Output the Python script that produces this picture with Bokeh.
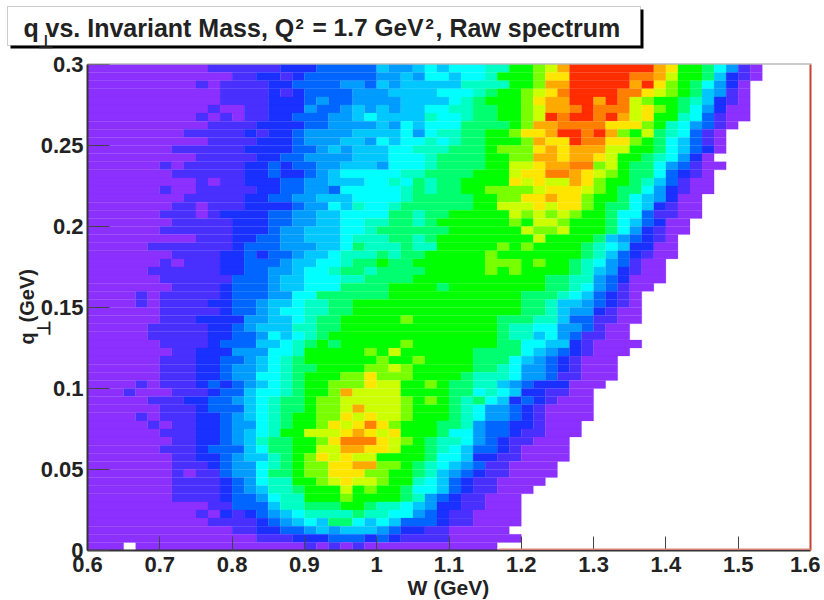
from bokeh.plotting import figure
from bokeh.embed import file_html
from bokeh.resources import INLINE
from bokeh.models import (ColumnDataSource, LinearColorMapper, FixedTicker, NumeralTickFormatter,
                          Label, BoxAnnotation)
import numpy as np

W_MIN, W_MAX, N_W = 0.6, 1.6, 60
Q_MIN, Q_MAX, N_Q = 0.0, 0.3, 60
PALETTE = ["#8B30FF","#4A30FF","#1A30FF","#0066FF","#009CFF","#00C8FF","#00FFFF","#00FFC4",
           "#00FF70","#00FF00","#78FF00","#CCFF00","#FFE600","#FFAA00","#FF8000","#FF2D00"]
LEVELS = "abcdefghijklmnop"
X_TICKS = [0.6,0.7,0.8,0.9,1.0,1.1,1.2,1.3,1.4,1.5,1.6]
Y_TICKS = [0,0.05,0.1,0.15,0.2,0.25,0.3]

# colour level per bin, top row (q=0.3) first; left part W bins 0-26
LEFT = [
"aaaaaaaaaa bbbbbb ccc ddddd f ee",
"aaaaaaaaaaaa bb cc b c dddddd ee f",
"aaaaaaaaa b a bbbb cc dddd ee d f e f",
"aaaaaaaaaaa bbbb c b c dddd eee ff",
"aaaaaaaaaaa bbbb ccc d e dd eeee f",
"aaaaaaaaaa b aa bb ccc e d d e f e f e f",
"aaaaaaaaa b a b a bb cc ddd ee f g fff",
"aaaaaaaaaa bbbb cccc dd eeee f e g",
"aaaaaaaa bbbbb c b cc d eeee ffff g",
"aaaaaaaaaa bbbb ccc d eee ff e g f g",
"aaaaaaa bbbbbb cccc dd e f e fff gg",
"aaaaaaaaa bbbbb cc dd eeee fff gg",
"aaaaaa b a bbbbb cc d c dd ee fff e gg",
"aaaaaaa bbbbbb cc d cc d e f ggggg h",
"aaaaaaaaa b a bb ccc dd ee fff gg h g",
"aaaaaa b aa bbbbb cc dd ee d ggggg h",
"aaaaaaaa bbbbb cc dd ee fff gggg h",
"aaaaaaa bb a bbb cccc d ee g f h gg h i",
"aaaaaa bbb a b cccc dd ee ff gggg ii",
"aaaaaaa bbbbb ccc dd ee ff gg hh ii",
"aaaaaa bbbbbb ccc d ee fff gg h iii",
"aaaaaaaaa bbb cc dd ee fff g hhh i i",
"aaaaa bbbbbbb c ddd eee ff g i hhh i",
"aaaaaaa bbbb cc d c dd e ff g hhh i h i",
"aaaaaa b a bbb cc ddd e ff gg h i i j i i",
"aaaaa bbbbbb cc dd ee f gg h ii h iii",
"aaaaaa bbbbbb ddd e ff ggg hh i iii",
"aaaaaaa bbbb c ddd e ff ggg iiii jj",
"aaaa b a bbbbb c ddd ee gg iiiiii jj",
"aaaa b a bbbb cc dd e ff g hh ii jjjjj",
"aaaaaa bbbbb c dd e f gg hh ii jjjjj",
"aaaaaa bbb cccc ee ff g h ii jjjjj k",
"aaaaa bbbbb cc d e fff hh ii jjjjjj",
"aaaaa bbbbb cc dd e g f g h i jjjjjjj",
"aaaaaa bbbb c ddd ff g h i j i jjjjj k",
"aaaaaaa bb ccc eee gg h jjjjj k j l j",
"aaaaaa bbb cc dd e f g h i jjjjjj k jj",
"aaaaaa bbb cc d ee f g h i i jjjj kk l k",
"aaaaaa bbb cc d ee gg h i jjj kk m kkk",
"aaaa b a bbb c d c d e f g h i jj kkk m ll j",
"aaa b aaa bbb c dd f gg h i jj k n llll j",
"aaaaa bbb cc dd e f g h ii j kk lllll k",
"aaaaaa bbb c ddd f g h ii j kk l n lll k",
"aaaa b a bbb cc d e f g h i jj kk m l m ll k",
"aaaaa b a bb cc d ee g h i jj k m l m o m k j",
"aaaaaa bbb cc d e f g h jj lll m n m l m j",
"aaaaaaa bb cc d e f h i i j j k m ooo m l k",
"aaaaaa bbb c ddd f g i i j j ll nn mm l j",
"aaaaaaa bb cc d e ff h i j k m l m ll jjj",
"aaaaaaa bbb c d ee g h i j kk mm nn kk j",
"aaaaaaa b a bb d ee g i i j kk mmm kk jj",
"aaaaaaa bbbb c d e g h h j j k l m ll k jj",
"aaaaaaa bbbb c d e f hh i jjj l j k jj i",
"aaaaaaa bbbb c dd e g hh jjj k jjjj i",
"aaaaaaaaaa bb ddd f hh iii jj i h h g",
"aaaaaaaaa b a c b c d e f g hhhh i hh gg",
"aaaaaaaaaa bbbb c d e f g f ii g f g f d",
"aaaaaaaaaaaa bb cc dd e f e ff f e d c",
"aaaaaaaaaaaaaa bbb ccc ddd c d c b",
"aaa . aaaaaaaaaaaaaa b a b a b aaaa",
]
# right part W bins 27 onward; bins past the string are empty
RIGHT = [
"fgf ggg hh jj k l n ppppppp n m jj i g e b a",
"e gg f gg h jjj k mm ppppp oo n l jj i f c b a",
"ffff hhhh jj k nn ppppp n p m k j i g e c a",
"ff ggg h i jj k l m o pppp oo m l k j i f e b a",
"fff g h i jjj k m nn pp n p o l k jj i h f c b a",
"f gg hh ii jj k l nn o p ooo l m k j i g e c aa",
"f h gg h ii jj k l p o pp o p n l m jj h g d b aa",
"f ggg iiii j k nn oooo mmm k j h g e d b a",
"e g hh ii jj k mm n pp o p n k j l i h g d b a",
"g h g h ii jjj k n mm p oo mm k j i g f d b a",
"hhh iii j kkk m n m nnn ll jj i g f d c a",
"g h iiii jj kk nn m nn m l jj i h g e c a",
"g h iiii jj ll m nn oo k l j ii g e d b aa",
"h iiii j jj l mm oo n m l k j ii g d c b a",
"i h i i jjjj m l m ll n m k jj i h f d b aa",
"i h ii jj kkkk l mmm l k j ii g e c b aa",
"iiiii jj kk mm n mm k jj i g f e c aa",
"iiiii jj lll m l mm k j ii g f c b aa",
"h ii jjjjj l k l k l k jj i gg d bb aa",
"h i jjjjjj k j ll k jjj i g f d c aa",
"iii jjjjjj l kk l jjj i g e c b aa",
"h i jjjjjjjj l jjjj i f e d c b a",
"hh jjjjj k j k jjjj i h g f cc aa",
"i jjjjj k jjjjjjj i h f d c b aa",
"jjjjjj kkk j k jj i h g e d b aa",
"i jjjjj k j k jjjj i h f e c b aa",
"jjjjjjjjjjj ii hh e d c aaa",
"jj i jjjjjjjj ii h g e d b aa",
"jjjjjjjjj iii h g f d c b a",
"jjjjjjjjj ii h ff e d c b a",
"jjjjjjjjj ii h f ee c b aa",
"jjjjjjj iii hh f dd bb aa",
"jjjjjjj i hh gg ee d b aa",
"jjjjjjj i hh f g e d bb aa",
"jjjjjjj ii gg ff c b aaaa",
"jjjjj iiii g f e d c b aaa",
"k jjjj iii g f e d c b aaa",
"jjjjj ii h g ee d c b aaa",
"jjjj i hhh g ee d bb aaa",
"j k j ii hh f e d ccc aaa",
"jjj ii g h g f cc bb aa",
"j k j i h i g f c d c b aaa",
"jjj i h g ee d c b aaaa",
"jjj i h g ee d c b aaaa",
"jj ii h e dd cc b aaa",
"jj i gg e dd c bb aaa",
"j i hh g e d c bb aaa",
"j i h g f dd c b aaaa",
"j i gg f cc bb aaaa",
"i h g f e d bb aaaa",
"i h f e d c bb aaaa",
"h g f d c bb aaaa",
"gg f d c bb aaa",
"h e d c bb aaa",
"f e cc bb aaa",
"e d c bb aaaa",
"dd c bb aaaa",
"c bb aaaaa",
"bbb aaaaaa",
"aaaaaaa",
]

# the frame fills the whole canvas so that the title box and labels are not clipped
CANVAS_W, CANVAS_H = 820, 600
PLOT_LEFT, PLOT_TOP, PLOT_W, PLOT_H = 87, 64, 723, 486
def fx(px):
    return W_MIN + (px - PLOT_LEFT) / PLOT_W * (W_MAX - W_MIN)
def fy(py):
    return Q_MIN + (PLOT_TOP + PLOT_H - py) / PLOT_H * (Q_MAX - Q_MIN)

x0, x1, y0, y1, lev = [], [], [], [], []
dw = (W_MAX - W_MIN) / N_W
dq = (Q_MAX - Q_MIN) / N_Q
for r, (a, b) in enumerate(zip(LEFT, RIGHT)):
    row = a.replace(" ", "") + b.replace(" ", "")
    c = 0
    while c < len(row):
        ch = row[c]
        e = c + 1
        while e < len(row) and row[e] == ch:
            e += 1
        if ch in LEVELS:
            x0.append(W_MIN + c * dw)
            x1.append(W_MIN + e * dw)
            y1.append(Q_MAX - r * dq)
            y0.append(Q_MAX - (r + 1) * dq)
            lev.append(LEVELS.index(ch))
        c = e

src = ColumnDataSource(dict(x0=x0, x1=x1, y0=y0, y1=y1, lev=lev))
mapper = LinearColorMapper(palette=PALETTE, low=0, high=len(PALETTE))

p = figure(width=CANVAS_W, height=CANVAS_H, output_backend="svg", toolbar_location=None,
           x_range=(fx(0), fx(CANVAS_W)), y_range=(fy(CANVAS_H), fy(0)),
           min_border_left=0, min_border_right=0, min_border_top=0, min_border_bottom=0,
           background_fill_color="white", border_fill_color="white", outline_line_color=None)
p.grid.visible = False

def box(l, r, t, b, fill, line=None):
    p.add_layout(BoxAnnotation(left=fx(l), right=fx(r), top=fy(t), bottom=fy(b), fill_color=fill,
                               fill_alpha=1, line_color=line))

p.quad(left="x0", right="x1", bottom="y0", top="y1", source=src,
       line_color={"field": "lev", "transform": mapper}, line_width=0.2,
       fill_color={"field": "lev", "transform": mapper})

FONT = "Liberation Sans"
xa, ya = p.xaxis[0], p.yaxis[0]
xa.fixed_location = Q_MIN
ya.fixed_location = W_MIN
xa.bounds = (W_MIN, W_MAX)
ya.bounds = (Q_MIN, Q_MAX)
for ax, ticks in ((xa, X_TICKS), (ya, Y_TICKS)):
    ax.ticker = FixedTicker(ticks=ticks, num_minor_ticks=5)
    ax.formatter = NumeralTickFormatter(format="0.[00]")
    ax.major_label_text_font = FONT
    ax.major_label_text_font_style = "bold"
    ax.major_label_text_font_size = "22px"
    ax.major_label_text_color = "#222222"
    ax.axis_line_color = "#333333"
    ax.axis_line_width = 2
    ax.major_tick_line_color = "#444444"
    ax.minor_tick_line_color = "#444444"
    ax.major_tick_line_width = 1
    ax.minor_tick_line_width = 1
    ax.major_tick_out = 0
    ax.minor_tick_out = 0
    ax.major_label_standoff = 6
xa.major_tick_in = 14
xa.minor_tick_in = 7
ya.major_tick_in = 22
ya.minor_tick_in = 12
ya.major_label_standoff = 4

# frame edges
box(809, 811, 64, 550, "#c8402f")
box(87, 811, 63, 64, "#999999")
box(498, 810, 548, 549.5, "#d98074")
# title box with shadow
box(10, 643, 9, 48, "black")
box(7, 640, 6, 45, "white", "#555555")

def txt(s, px, py, size=21, angle=0):
    p.add_layout(Label(x=fx(px), y=fy(py), text=s, text_font=FONT,
                       text_font_style="bold", text_font_size=f"{size}px", text_color="#222222",
                       angle=angle, text_baseline="middle", text_align="left"))

txt("q", 23, 27, 25)
txt("\u22a5", 37, 41, 18)
txt("vs. Invariant Mass, Q", 45, 27, 25)
txt("2", 295, 23.5, 15)
txt("= 1.7 GeV", 312, 27, 24.5)
txt("2", 425, 23.5, 15)
txt(", Raw spectrum", 435, 27, 25)

txt("W (GeV)", 407, 586.5)
txt("q", 26.5, 344, 20, angle=np.pi / 2)
txt("\u22a5", 43, 335, 18, angle=np.pi / 2)
txt("(GeV)", 26.5, 322, 20, angle=np.pi / 2)

open("out.html", "w").write(file_html(p, INLINE))
